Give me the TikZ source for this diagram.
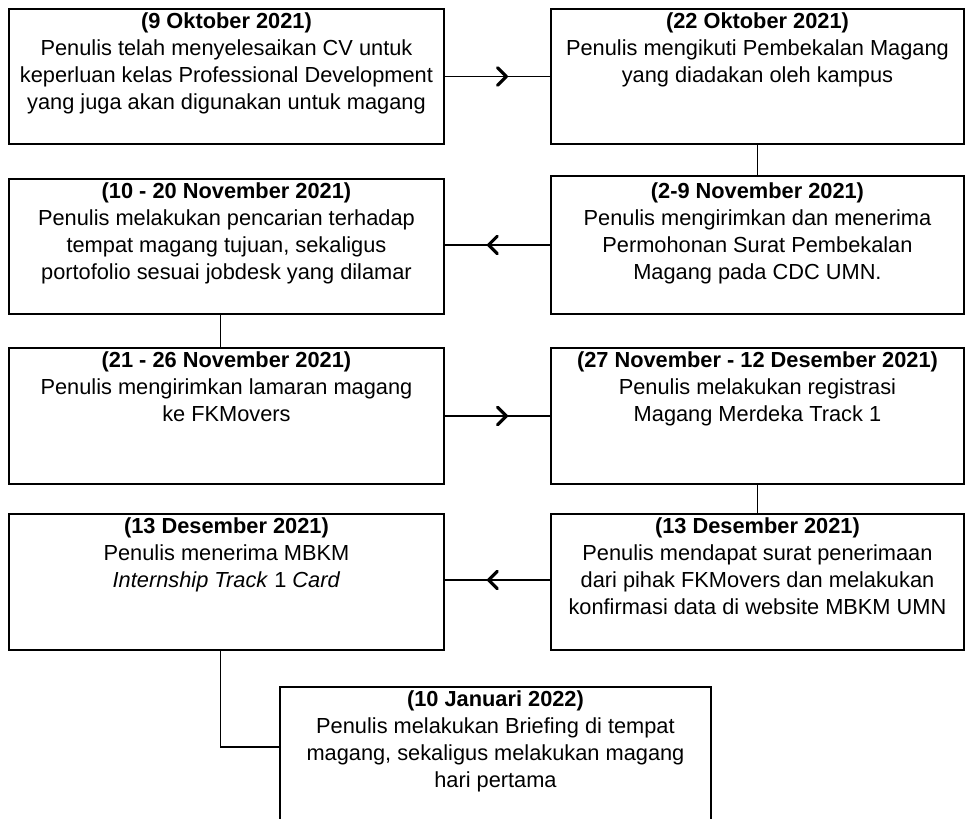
\documentclass[tikz,border=0pt]{standalone}
\usepackage{fontspec}
\setmainfont{Liberation Sans}
\usetikzlibrary{arrows.meta, positioning, calc, decorations.markings}

\begin{document}
\begin{tikzpicture}[font=\fontsize{12.4}{15.4}\selectfont,
    box/.style={draw, line width=1.1pt, rectangle, anchor=north west, inner sep=0pt},
    lbox/.style={box, minimum width=8.7cm, minimum height=2.72cm},
    rbox/.style={box, minimum width=8.26cm, minimum height=2.72cm},
    txt/.style={anchor=north, align=center, inner sep=0pt, yshift=-0.08cm},
    link/.style={line width=0.8pt},
    midarrow/.style={link, postaction={decorate, decoration={markings,
        mark=at position 0.6 with {\arrow{Straight Barb[length=5pt, width=10pt, line width=1.8pt, round]}}}}},
    midarrowrev/.style={link, postaction={decorate, decoration={markings,
        mark=at position 0.4 with {\arrowreversed{Straight Barb[length=5pt, width=10pt, line width=1.8pt, round]}}}}}]
    \useasboundingbox (0,0) rectangle (19.42,-16.38);
    \clip (0,0) rectangle (19.42,-16.38);
    \node[lbox, minimum height=2.7cm] (b1) at (0.16,-0.16) {};
    \node[rbox, minimum height=2.7cm] (b2) at (11.0,-0.16) {};
    \node[lbox, minimum height=2.7cm] (b3) at (0.16,-3.56) {};
    \node[rbox, minimum height=2.76cm] (b4) at (11.0,-3.5) {};
    \node[lbox] (b5) at (0.16,-6.94) {};
    \node[rbox] (b6) at (11.0,-6.94) {};
    \node[lbox] (b7) at (0.16,-10.26) {};
    \node[rbox] (b8) at (11.0,-10.26) {};
    \node[box, minimum width=8.62cm, minimum height=3.4cm] (b9) at (5.58,-13.72) {};
    \node[txt] (t1) at (b1.north) {\textbf{(9 Oktober 2021)}\\Penulis telah menyelesaikan CV untuk\\keperluan kelas Professional Development\\yang juga akan digunakan untuk magang};
    \node[txt] (t2) at (b2.north) {\textbf{(22 Oktober 2021)}\\Penulis mengikuti Pembekalan Magang\\yang diadakan oleh kampus};
    \node[txt] (t3) at (b3.north) {\textbf{(10 - 20 November 2021)}\\Penulis melakukan pencarian terhadap\\tempat magang tujuan, sekaligus\\portofolio sesuai jobdesk yang dilamar};
    \node[txt] (t4) at ([yshift=-0.06cm]b4.north) {\textbf{(2-9 November 2021)}\\Penulis mengirimkan dan menerima\\Permohonan Surat Pembekalan\\Magang pada CDC UMN.};
    \node[txt] (t5) at (b5.north) {\textbf{(21 - 26 November 2021)}\\Penulis mengirimkan lamaran magang\\ke FKMovers};
    \node[txt] (t6) at (b6.north) {\textbf{(27 November - 12 Desember 2021)}\\Penulis melakukan registrasi\\Magang Merdeka Track 1};
    \node[txt] (t7) at (b7.north) {\textbf{(13 Desember 2021)}\\Penulis menerima MBKM\\\textit{Internship Track} 1 \textit{Card}};
    \node[txt] (t8) at (b8.north) {\textbf{(13 Desember 2021)}\\Penulis mendapat surat penerimaan\\dari pihak FKMovers dan melakukan\\konfirmasi data di website MBKM UMN};
    \node[txt] (t9) at (b9.north) {\textbf{(10 Januari 2022)}\\Penulis melakukan Briefing di tempat\\magang, sekaligus melakukan magang\\hari pertama};
    \draw[midarrow] (b1) -- (b2);
    \draw[midarrowrev] (b3.east |- b4) -- (b4);
    \draw[midarrow] (b5) -- (b6);
    \draw[midarrowrev] (b7.east |- 0,-11.6) -- (b8.west |- 0,-11.6);
    \draw[link] (b2) -- (b4);
    \draw[link] ([xshift=-0.12cm]b3.south) -- ([xshift=-0.12cm]b5.north);
    \draw[link] (b6) -- (b8);
    \draw[link] ([xshift=-0.12cm]b7.south) |- ([yshift=-1.22cm]b9.north west);
\end{tikzpicture}
\end{document}
